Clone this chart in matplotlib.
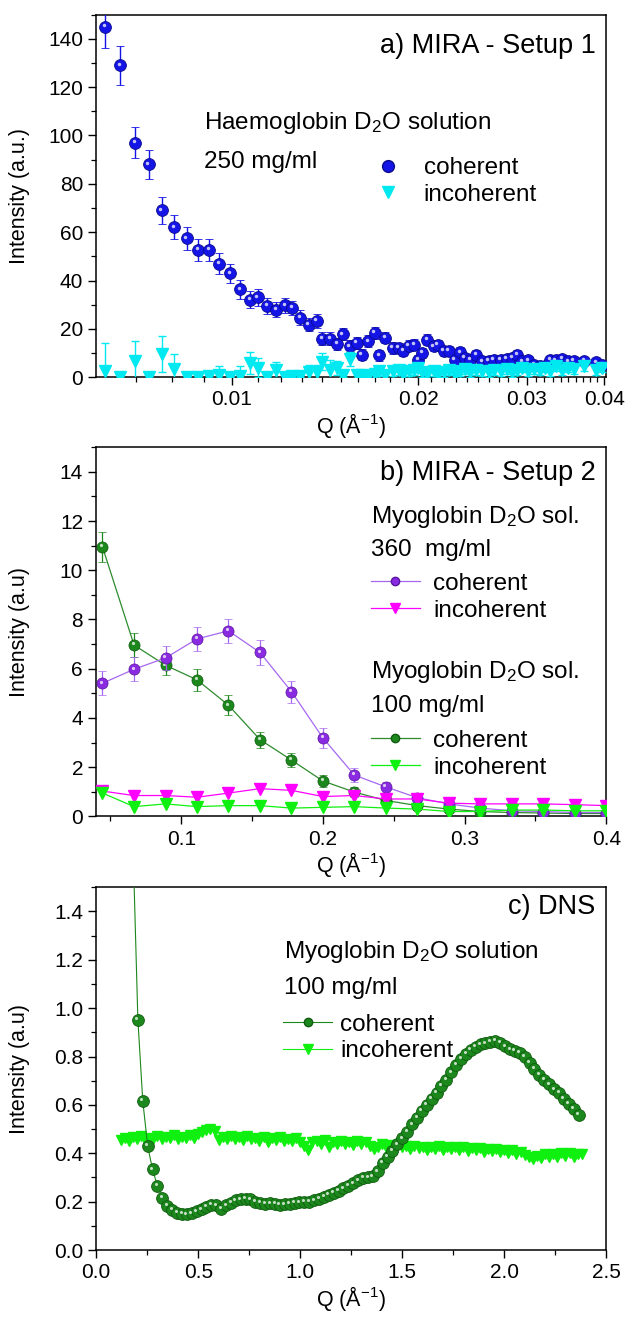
import numpy as np
import matplotlib
matplotlib.use('Agg')
import matplotlib.pyplot as plt
from matplotlib.ticker import FixedLocator, MultipleLocator, NullFormatter, FuncFormatter
from matplotlib.lines import Line2D
from matplotlib.transforms import offset_copy

plt.rcParams['font.family'] = ['Liberation Sans', 'DejaVu Sans']
plt.rcParams['mathtext.fontset'] = 'custom'
plt.rcParams['mathtext.rm'] = 'Liberation Sans'
plt.rcParams['mathtext.it'] = 'Liberation Sans:italic'

# ---------------- a) MIRA - Setup 1 (Haemoglobin, 250 mg/ml) ----------------
q_a = [0.00623, 0.00659, 0.00697, 0.00733, 0.0077, 0.00806, 0.00845, 0.00881, 0.00919, 0.00954,
       0.00993, 0.0103, 0.0107, 0.0110, 0.0114, 0.0118, 0.0122, 0.0125, 0.0129, 0.0133,
       0.0137, 0.0140, 0.0144, 0.0148, 0.0151, 0.0155, 0.0159, 0.0162, 0.0166, 0.0170,
       0.0173, 0.0177, 0.0182, 0.0186, 0.0189, 0.0193, 0.0197, 0.0200, 0.0203, 0.0207,
       0.0212, 0.0215, 0.0220, 0.0224, 0.0229, 0.0234, 0.0238, 0.0243, 0.0248, 0.0254,
       0.0260, 0.0265, 0.0272, 0.0278, 0.0284, 0.0289, 0.0295, 0.0301, 0.0308, 0.0315,
       0.0321, 0.0327, 0.0334, 0.0342, 0.0350, 0.0357, 0.0371, 0.0388, 0.0397]
coh_a = [145, 129, 97, 88, 69, 62, 57.5, 52.6, 52.6, 47,
         43, 36.3, 32, 33, 29.4, 28, 29.7, 28.7, 24.6, 21.8,
         23.2, 15.9, 15.9, 13.8, 17.7, 12.8, 14.2, 9.4, 14.9, 18.4,
         9.0, 16.3, 12.1, 12.1, 10.8, 13.1, 13.5, 7.3, 10.0, 15.6,
         12.8, 13.5, 10.8, 10.8, 7.3, 10.3, 8.0, 7.3, 9.4, 6.6,
         6.9, 7.3, 7.3, 7.6, 8.0, 9.4, 6.6, 7.0, 5.2, 4.5,
         4.8, 7.3, 7.0, 7.6, 6.6, 6.9, 6.9, 6.2, 5.2]
coh_a_err = [9, 8, 6.5, 6, 5.5, 5, 4.8, 4.5, 4.5, 4.2,
             4, 3.8, 3.5, 3.5, 3.3, 3.2, 3.2, 3, 3, 2.8,
             2.8, 2.6, 2.6, 2.6, 2.5, 2.5, 2.5, 2.4, 2.4, 2.4,
             2.3, 2.3, 2.3, 2.2, 2.2, 2.2, 2.2, 2.1, 2.1, 2.1,
             2.0, 2.0, 2.0, 2.0, 2.0, 2.0, 1.9, 1.9, 1.9, 1.9,
             1.9, 1.8, 1.8, 1.8, 1.8, 1.8, 1.7, 1.7, 1.7, 1.7,
             1.7, 1.6, 1.6, 1.6, 1.6, 1.6, 1.5, 1.5, 1.5]
inc_a = [2.5, 0.3, 6.6, 0.2, 9.5, 3.5, 0.2, 0.3, 0.6, 0.8,
         0.2, 0.5, 6.0, 4.0, 0.3, 3.0, 0.3, 0.4, 0.5, 2.0,
         2.0, 6.5, 3.0, 3.8, 1.0, 7.5, 0.8, 1.0, 0.5, 1.5,
         2.5, 1.0, 2.5, 3.0, 1.5, 2.5, 3.0, 4.0, 2.0, 1.5,
         2.5, 1.5, 2.0, 3.0, 1.5, 2.5, 3.5, 2.0, 3.0, 2.5,
         2.0, 3.0, 2.5, 3.5, 2.0, 3.0, 4.0, 2.5, 3.5, 3.0,
         4.0, 2.5, 4.5, 3.0, 4.0, 3.5, 4.5, 3.0, 4.0]
inc_a_err = [11.5, 1, 8.5, 1, 7.5, 6, 0.5, 0.5, 0.8, 4,
             0.5, 4, 4.5, 4, 0.5, 3.5, 0.5, 0.5, 0.5, 3,
             3, 3.5, 4, 3, 1, 3, 1, 1, 1, 2,
             2, 2, 2, 2, 2, 2, 2, 2, 2, 2,
             2, 2, 2, 2, 2, 2, 2, 2, 2, 2,
             2, 2, 2, 2, 2, 2, 2, 2, 2, 2,
             2, 2, 2, 2, 2, 2, 2, 2, 2]

# ---------------- b) MIRA - Setup 2 (Myoglobin) ----------------
q_b = [0.0444, 0.0667, 0.0889, 0.1111, 0.1333, 0.1556, 0.1778, 0.2000, 0.2222,
       0.2444, 0.2667, 0.2889, 0.3111, 0.3333, 0.3556, 0.3778, 0.4000]
coh_360 = [5.41, 5.98, 6.44, 7.21, 7.54, 6.66, 5.07, 3.19, 1.68, 1.20, 0.76, 0.51,
           0.34, 0.23, 0.20, 0.16, 0.16]
coh_360_err = [0.48, 0.48, 0.48, 0.48, 0.50, 0.49, 0.45, 0.40, 0.27, 0.20, 0.15, 0.12,
               0.10, 0.08, 0.08, 0.07, 0.07]
inc_360 = [1.03, 0.85, 0.85, 0.78, 0.95, 1.13, 1.06, 0.81, 0.85, 0.71, 0.71, 0.54,
           0.51, 0.51, 0.51, 0.48, 0.44]
coh_100 = [10.95, 6.96, 6.14, 5.55, 4.52, 3.12, 2.29, 1.44, 0.99, 0.65, 0.44, 0.30,
           0.20, 0.16, 0.14, 0.12, 0.12]
coh_100_err = [0.60, 0.50, 0.40, 0.45, 0.40, 0.33, 0.30, 0.25, 0.20, 0.15, 0.12, 0.10,
               0.08, 0.07, 0.07, 0.06, 0.06]
inc_100 = [0.95, 0.40, 0.51, 0.40, 0.44, 0.44, 0.34, 0.37, 0.40, 0.34, 0.30, 0.20,
           0.20, 0.26, 0.26, 0.23, 0.23]

# ---------------- c) DNS (Myoglobin, 100 mg/ml) ----------------
q_c_coh = [0.180, 0.204, 0.228, 0.252, 0.276, 0.300, 0.324, 0.348, 0.372, 0.396,
           0.420, 0.444, 0.468, 0.492, 0.516, 0.540, 0.564, 0.588, 0.612, 0.636,
           0.660, 0.684, 0.708, 0.732, 0.756, 0.780, 0.804, 0.828, 0.852, 0.876,
           0.900, 0.924, 0.948, 0.972, 0.996, 1.020, 1.044, 1.068, 1.092, 1.116,
           1.140, 1.164, 1.188, 1.212, 1.236, 1.260, 1.284, 1.308, 1.332, 1.356,
           1.380, 1.404, 1.428, 1.452, 1.476, 1.500, 1.524, 1.548, 1.572, 1.596,
           1.620, 1.644, 1.668, 1.692, 1.716, 1.740, 1.764, 1.788, 1.812, 1.836,
           1.860, 1.884, 1.908, 1.932, 1.956, 1.980, 2.004, 2.028, 2.052, 2.076,
           2.100, 2.124, 2.148, 2.172, 2.196, 2.220, 2.244, 2.268, 2.292, 2.316,
           2.340, 2.364]
coh_c = [1.680, 0.953, 0.617, 0.430, 0.333, 0.265, 0.215, 0.183, 0.165, 0.155,
         0.150, 0.148, 0.152, 0.160, 0.168, 0.178, 0.188, 0.185, 0.170, 0.185,
         0.195, 0.205, 0.210, 0.212, 0.210, 0.200, 0.195, 0.192, 0.193, 0.190,
         0.188, 0.189, 0.192, 0.195, 0.197, 0.198, 0.200, 0.205, 0.212, 0.220,
         0.228, 0.236, 0.245, 0.255, 0.265, 0.276, 0.288, 0.298, 0.300, 0.305,
         0.325, 0.360, 0.385, 0.410, 0.437, 0.462, 0.490, 0.520, 0.548, 0.575,
         0.600, 0.625, 0.650, 0.678, 0.705, 0.735, 0.765, 0.790, 0.810, 0.828,
         0.840, 0.850, 0.855, 0.860, 0.866, 0.858, 0.842, 0.830, 0.825, 0.815,
         0.800, 0.775, 0.750, 0.725, 0.705, 0.685, 0.665, 0.650, 0.625, 0.605,
         0.585, 0.560]
q_c_inc = [0.12, 0.14, 0.16, 0.18, 0.20, 0.22, 0.24, 0.26, 0.28, 0.30,
           0.32, 0.34, 0.36, 0.38, 0.40, 0.42, 0.44, 0.46, 0.48, 0.50,
           0.52, 0.54, 0.56, 0.58, 0.60, 0.62, 0.64, 0.66, 0.68, 0.70,
           0.72, 0.74, 0.76, 0.78, 0.80, 0.82, 0.84, 0.86, 0.88, 0.90,
           0.92, 0.94, 0.96, 0.98, 1.00, 1.02, 1.04, 1.06, 1.08, 1.10,
           1.12, 1.14, 1.16, 1.18, 1.20, 1.22, 1.24, 1.26, 1.28, 1.30,
           1.32, 1.34, 1.36, 1.38, 1.40, 1.42, 1.44, 1.46, 1.48, 1.50,
           1.52, 1.54, 1.56, 1.58, 1.60, 1.62, 1.64, 1.66, 1.68, 1.70,
           1.72, 1.74, 1.76, 1.78, 1.80, 1.82, 1.84, 1.86, 1.88, 1.90,
           1.92, 1.94, 1.96, 1.98, 2.00, 2.02, 2.04, 2.06, 2.08, 2.10,
           2.12, 2.14, 2.16, 2.18, 2.20, 2.22, 2.24, 2.26, 2.28, 2.30,
           2.32, 2.34, 2.36, 2.38]
inc_c = [0.455, 0.462, 0.450, 0.466, 0.458, 0.470, 0.455, 0.464, 0.460, 0.472,
         0.458, 0.466, 0.462, 0.474, 0.460, 0.468, 0.463, 0.476, 0.465, 0.480,
         0.488, 0.495, 0.500, 0.492, 0.455, 0.468, 0.460, 0.472, 0.458, 0.466,
         0.455, 0.470, 0.460, 0.464, 0.452, 0.466, 0.448, 0.462, 0.455, 0.468,
         0.452, 0.460, 0.450, 0.463, 0.448, 0.430, 0.415, 0.445, 0.452, 0.440,
         0.456, 0.425, 0.445, 0.438, 0.452, 0.440, 0.448, 0.436, 0.450, 0.438,
         0.446, 0.430, 0.418, 0.425, 0.440, 0.428, 0.436, 0.422, 0.434, 0.425,
         0.432, 0.418, 0.430, 0.420, 0.428, 0.415, 0.426, 0.418, 0.430, 0.412,
         0.424, 0.416, 0.428, 0.414, 0.424, 0.410, 0.422, 0.412, 0.420, 0.405,
         0.418, 0.408, 0.416, 0.404, 0.414, 0.400, 0.412, 0.398, 0.406, 0.392,
         0.385, 0.378, 0.390, 0.382, 0.395, 0.385, 0.398, 0.386, 0.400, 0.388,
         0.402, 0.385, 0.398, 0.395]

# colours
BLUE = '#1414e6'
CYAN = '#00e8f0'
PURPLE = '#8a2be2'
PURPLE_LINE = '#a668f0'
MAGENTA = '#ff00ff'
DKGREEN = '#1c871c'
GREEN_LINE = '#2e8b2e'
LIME = '#10f010'

FS_TICK = 15
FS_LAB = 15.5
FS_TITLE = 19.5
FS_TXT = 17.5

fig = plt.figure(figsize=(6.25, 13.19), dpi=100)


def style_axes(ax):
    for s in ax.spines.values():
        s.set_linewidth(1.1)
    ax.tick_params(which='major', direction='out', length=6, width=1.0, labelsize=FS_TICK,
                   top=False, right=False)
    ax.tick_params(which='minor', direction='out', length=3.5, width=0.9, top=False, right=False)


def shine(ax, x, y, size, dx=-1.0, dy=1.2, z=5):
    # small white highlight so the balls look like the shaded spheres of the original
    tr = offset_copy(ax.transData, fig=fig, x=dx, y=dy, units='points')
    ax.plot(x, y, 'o', ms=size, color='white', alpha=0.75, mec='none', transform=tr,
            zorder=z, clip_on=True)


QLABEL = r'Q (Å$^{\mathregular{-1}}$)'
leg_kw = dict(loc='upper left', frameon=False, fontsize=FS_TXT, borderpad=0,
              borderaxespad=0, labelspacing=0.2)

# ---- panel a ----
ax1 = fig.add_axes([0.154, 0.714, 0.816, 0.275])
ax1.set_xscale('log')
ax1.errorbar(q_a, coh_a, yerr=coh_a_err, fmt='o', ms=8.5, color=BLUE, mec='#0a0a8c', mew=0.6,
             ecolor=BLUE, elinewidth=1.0, capsize=3, capthick=1.0, zorder=3)
shine(ax1, q_a, coh_a, 2.5, z=4)
ax1.errorbar(q_a, inc_a, yerr=inc_a_err, fmt='v', ms=9, color=CYAN, mec=CYAN,
             ecolor=CYAN, elinewidth=1.0, capsize=3, capthick=1.0, zorder=5)
ax1.set_xlim(0.00603, 0.0403)
ax1.set_ylim(0, 150)
ax1.xaxis.set_major_locator(FixedLocator([0.01, 0.02, 0.03, 0.04]))
ax1.xaxis.set_major_formatter(FuncFormatter(lambda v, p: '%g' % v))
ax1.xaxis.set_minor_locator(MultipleLocator(0.001))
ax1.xaxis.set_minor_formatter(NullFormatter())
ax1.yaxis.set_major_locator(MultipleLocator(20))
ax1.yaxis.set_minor_locator(MultipleLocator(10))
style_axes(ax1)
ax1.set_xlabel(QLABEL, fontsize=FS_LAB, labelpad=1)
ax1.set_ylabel('Intensity (a.u.)', fontsize=FS_LAB)
ax1.yaxis.set_label_coords(-0.13, 0.5)
ax1.text(0.98, 0.912, 'a) MIRA - Setup 1', transform=ax1.transAxes, ha='right', va='center',
         fontsize=FS_TITLE)
ax1.text(0.212, 0.702, r'Haemoglobin D$_\mathregular{2}$O solution', transform=ax1.transAxes,
         ha='left', va='center', fontsize=FS_TXT)
ax1.text(0.212, 0.594, '250 mg/ml', transform=ax1.transAxes, ha='left', va='center',
         fontsize=FS_TXT)
h_a = [Line2D([], [], ls='none', marker='o', ms=8.5, color=BLUE, mec='#0a0a8c'),
       Line2D([], [], ls='none', marker='v', ms=9, color=CYAN)]
ax1.legend(h_a, ['coherent', 'incoherent'], bbox_to_anchor=(0.544, 0.607),
           handlelength=1.2, handletextpad=0.85, **leg_kw)

# ---- panel b ----
ax2 = fig.add_axes([0.154, 0.381, 0.816, 0.280])
ax2.plot(q_b, coh_100, '-', color=GREEN_LINE, lw=0.9, zorder=2)
ax2.errorbar(q_b, coh_100, yerr=coh_100_err, fmt='o', ms=8, color=DKGREEN, mec='#0f5c0f',
             mew=0.5, ecolor=DKGREEN, elinewidth=0.9, capsize=3, zorder=3)
shine(ax2, q_b, coh_100, 2.3, z=3.5)
ax2.plot(q_b, coh_360, '-', color=PURPLE_LINE, lw=0.9, zorder=2)
ax2.errorbar(q_b, coh_360, yerr=coh_360_err, fmt='o', ms=8, color=PURPLE, mec='#5a16a0',
             mew=0.5, ecolor=PURPLE_LINE, elinewidth=0.9, capsize=3, zorder=4)
shine(ax2, q_b, coh_360, 2.3, z=4.5)
ax2.plot(q_b, inc_360, '-', marker='v', ms=8.5, color=MAGENTA, lw=0.9, zorder=5)
ax2.plot(q_b, inc_100, '-', marker='v', ms=8.5, color=LIME, lw=0.9, zorder=5)
ax2.set_xlim(0.04, 0.4)
ax2.set_ylim(0, 15)
ax2.xaxis.set_major_locator(MultipleLocator(0.1))
ax2.xaxis.set_minor_locator(MultipleLocator(0.05))
ax2.xaxis.set_major_formatter(FuncFormatter(lambda v, p: '%g' % v))
ax2.yaxis.set_major_locator(MultipleLocator(2))
ax2.yaxis.set_minor_locator(MultipleLocator(1))
style_axes(ax2)
ax2.set_xlabel(QLABEL, fontsize=FS_LAB, labelpad=1)
ax2.set_ylabel('Intensity (a.u)', fontsize=FS_LAB)
ax2.yaxis.set_label_coords(-0.13, 0.5)
ax2.text(0.98, 0.930, 'b) MIRA - Setup 2', transform=ax2.transAxes, ha='right', va='center',
         fontsize=FS_TITLE)
ax2.text(0.539, 0.810, r'Myoglobin D$_\mathregular{2}$O sol.', transform=ax2.transAxes,
         ha='left', va='center', fontsize=FS_TXT)
ax2.text(0.539, 0.721, '360  mg/ml', transform=ax2.transAxes, ha='left', va='center',
         fontsize=FS_TXT)
ax2.text(0.539, 0.390, r'Myoglobin D$_\mathregular{2}$O sol.', transform=ax2.transAxes,
         ha='left', va='center', fontsize=FS_TXT)
ax2.text(0.539, 0.298, '100 mg/ml', transform=ax2.transAxes, ha='left', va='center',
         fontsize=FS_TXT)
h_b1 = [Line2D([], [], color=PURPLE_LINE, lw=0.9, marker='o', ms=6, mfc=PURPLE, mec='#5a16a0'),
        Line2D([], [], color=MAGENTA, lw=0.9, marker='v', ms=7, mfc=MAGENTA)]
leg1 = ax2.legend(h_b1, ['coherent', 'incoherent'], bbox_to_anchor=(0.539, 0.66),
                  handlelength=2.0, handletextpad=0.55, **leg_kw)
ax2.add_artist(leg1)
h_b2 = [Line2D([], [], color=GREEN_LINE, lw=0.9, marker='o', ms=6, mfc=DKGREEN, mec='#0f5c0f'),
        Line2D([], [], color=LIME, lw=0.9, marker='v', ms=7, mfc=LIME)]
ax2.legend(h_b2, ['coherent', 'incoherent'], bbox_to_anchor=(0.539, 0.235),
           handlelength=2.0, handletextpad=0.55, **leg_kw)

# ---- panel c ----
ax3 = fig.add_axes([0.154, 0.0523, 0.816, 0.275])
ax3.plot(q_c_inc, inc_c, '-', marker='v', ms=7, color=LIME, lw=0.8, zorder=3)
ax3.plot(q_c_coh, coh_c, '-', marker='o', ms=8.5, color=DKGREEN, mec='#0f5c0f', mew=0.6,
         lw=0.8, zorder=4)
shine(ax3, q_c_coh, coh_c, 2.2, z=4.5)
ax3.set_xlim(0, 2.5)
ax3.set_ylim(0, 1.5)
ax3.xaxis.set_major_locator(MultipleLocator(0.5))
ax3.xaxis.set_minor_locator(MultipleLocator(0.25))
ax3.yaxis.set_major_locator(MultipleLocator(0.2))
ax3.yaxis.set_minor_locator(MultipleLocator(0.1))
ax3.xaxis.set_major_formatter(FuncFormatter(lambda v, p: '%.1f' % v))
ax3.yaxis.set_major_formatter(FuncFormatter(lambda v, p: '%.1f' % v))
style_axes(ax3)
ax3.set_xlabel(QLABEL, fontsize=FS_LAB, labelpad=1)
ax3.set_ylabel('Intensity (a.u)', fontsize=FS_LAB)
ax3.yaxis.set_label_coords(-0.13, 0.5)
ax3.text(0.978, 0.945, 'c) DNS', transform=ax3.transAxes, ha='right', va='center',
         fontsize=FS_TITLE)
ax3.text(0.369, 0.821, r'Myoglobin D$_\mathregular{2}$O solution', transform=ax3.transAxes,
         ha='left', va='center', fontsize=FS_TXT)
ax3.text(0.369, 0.722, '100 mg/ml', transform=ax3.transAxes, ha='left', va='center',
         fontsize=FS_TXT)
h_c = [Line2D([], [], color=DKGREEN, lw=0.8, marker='o', ms=6, mfc=DKGREEN, mec='#0f5c0f'),
       Line2D([], [], color=LIME, lw=0.8, marker='v', ms=7, mfc=LIME)]
ax3.legend(h_c, ['coherent', 'incoherent'], bbox_to_anchor=(0.367, 0.652),
           handlelength=2.0, handletextpad=0.33, **leg_kw)

fig.savefig('out.png', dpi=100)
